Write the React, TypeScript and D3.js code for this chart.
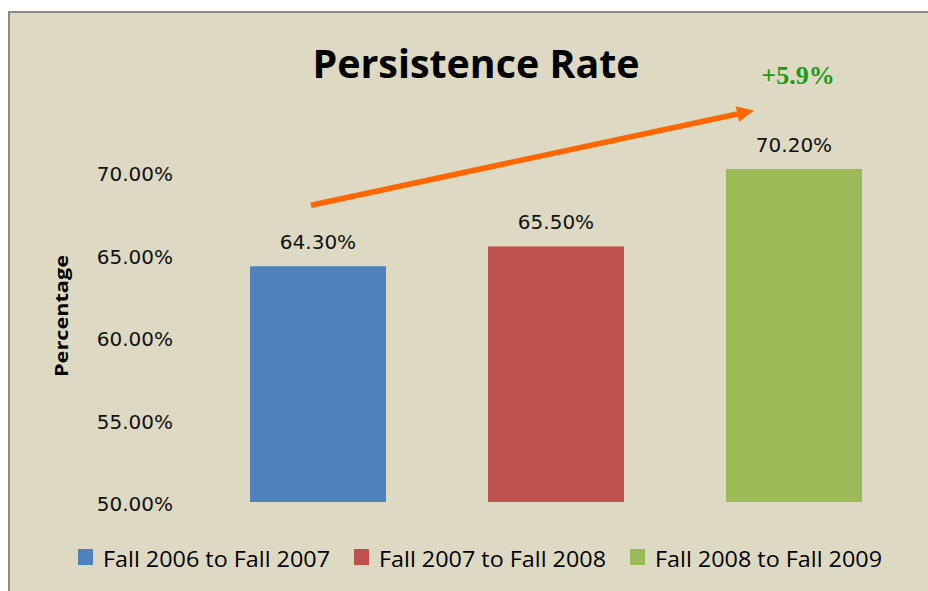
import React from "react";
import * as d3 from "d3";

const categories = ["Fall 2006 to Fall 2007", "Fall 2007 to Fall 2008", "Fall 2008 to Fall 2009"];
const values = [0.643, 0.655, 0.702];
const colors = ["#4F81BD", "#C0504D", "#9BBB59"];
const yTicks = [0.5, 0.55, 0.6, 0.65, 0.7];
const title = "Persistence Rate";
const yLabel = "Percentage";
const changeLabel = "+5.9%";
// arrow annotation anchored in data space: [category index, value]
const arrowStart: [number, number] = [0, 0.68];
const arrowEnd: [number, number] = [2, 0.7375];

const W = 928;
const H = 591;

export default function App() {
  const x = d3
    .scaleBand<string>()
    .domain(categories)
    .range([199, 913])
    .paddingInner(0.75 / 1.75)
    .paddingOuter(0.75 / 3.5);
  const y = d3.scaleLinear().domain([0.5, 0.75]).range([502, 89.8]);
  const fmt = d3.format(".2%");
  const bw = x.bandwidth();

  const ax0 = (x(categories[arrowStart[0]]) as number) + bw / 2 - 7;
  const ay0 = y(arrowStart[1]);
  const ax1 = (x(categories[arrowEnd[0]]) as number) + 28;
  const ay1 = y(arrowEnd[1]);
  const ang = Math.atan2(ay1 - ay0, ax1 - ax0);
  const headLen = 17;
  const headHalf = 8;
  const bx = ax1 - headLen * Math.cos(ang);
  const by = ay1 - headLen * Math.sin(ang);
  const px = -Math.sin(ang);
  const py = Math.cos(ang);
  const head = [
    [ax1, ay1],
    [bx + px * headHalf, by + py * headHalf],
    [bx - px * headHalf, by - py * headHalf],
  ];

  const legendX0 = 78;
  const legendStep = 276;

  return (
    <svg
      width={W}
      height={H}
      style={{ position: "absolute", left: 0, top: 0, background: "#fff" }}
    >
      <rect x={9} y={12} width={W + 20} height={H + 20} fill="#DDD9C3" stroke="#8A8A8A" strokeWidth={2} />
      <text
        x={476}
        y={78}
        textAnchor="middle"
        fontFamily="'Open Sans', sans-serif"
        fontWeight="bold"
        fontSize={40}
        textLength={327}
        lengthAdjust="spacingAndGlyphs"
        fill="#000"
      >
        {title}
      </text>
      {yTicks.map((t) => (
        <text
          key={t}
          x={173}
          y={y(t)}
          dy="0.45em"
          textAnchor="end"
          fontFamily="'DejaVu Sans', sans-serif"
          fontSize={20}
          fill="#111"
        >
          {fmt(t)}
        </text>
      ))}
      <text
        transform={`translate(68,316) rotate(-90)`}
        textAnchor="middle"
        fontFamily="'Open Sans', sans-serif"
        fontWeight="bold"
        fontSize={18}
        textLength={122}
        lengthAdjust="spacingAndGlyphs"
        fill="#000"
      >
        {yLabel}
      </text>
      {categories.map((c, i) => (
        <g key={c}>
          <rect
            x={x(c)}
            y={y(values[i])}
            width={bw}
            height={y(0.5) - y(values[i])}
            fill={colors[i]}
          />
          <text
            x={(x(c) as number) + bw / 2}
            y={y(values[i]) - 17}
            textAnchor="middle"
            fontFamily="'DejaVu Sans', sans-serif"
            fontSize={20}
            fill="#111"
          >
            {fmt(values[i])}
          </text>
        </g>
      ))}
      <line x1={ax0} y1={ay0} x2={bx} y2={by} stroke="#FF6600" strokeWidth={5.5} />
      <polygon points={head.map((p) => p.join(",")).join(" ")} fill="#FF6600" />
      <text
        x={798}
        y={84}
        textAnchor="middle"
        fontFamily="'Liberation Serif', 'Times New Roman', serif"
        fontWeight="bold"
        fontSize={26}
        fill="#1A9B1A"
      >
        {changeLabel}
      </text>
      {categories.map((c, i) => (
        <g key={"lg" + c} transform={`translate(${legendX0 + i * legendStep},549)`}>
          <rect x={0} y={0} width={15} height={16} fill={colors[i]} />
          <text
            x={25}
            y={18}
            fontFamily="'Open Sans', sans-serif"
            fontSize={21}
            textLength={227}
            lengthAdjust="spacingAndGlyphs"
            fill="#000"
          >
            {c}
          </text>
        </g>
      ))}
    </svg>
  );
}
